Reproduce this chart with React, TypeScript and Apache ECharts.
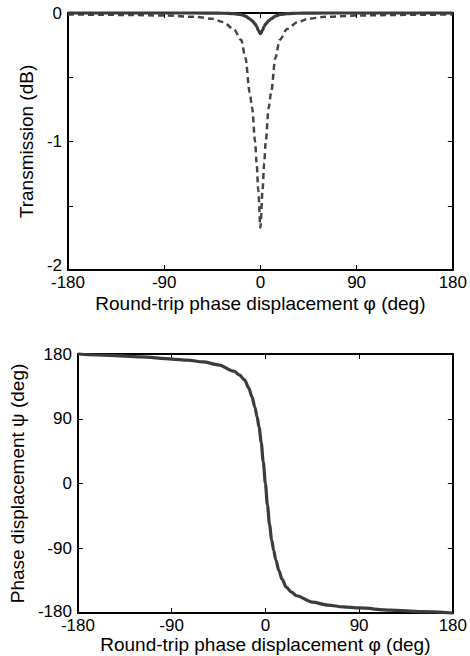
import React, { useEffect, useRef } from "react";
import * as echarts from "echarts";

// Transmission panel (top)
const phiT = [-180, -150, -120, -90, -60, -45, -35, -25, -18, -14, -10, -7.7, -5, -3.5, -2, 0, 2, 3.5, 5, 7.7, 10, 14, 18, 25, 35, 45, 60, 90, 120, 150, 180];
const transSolid = [0, 0, 0, 0, 0, -0.001, -0.002, -0.005, -0.012, -0.025, -0.045, -0.062, -0.085, -0.105, -0.135, -0.16, -0.135, -0.105, -0.085, -0.062, -0.045, -0.025, -0.012, -0.005, -0.002, -0.001, 0, 0, 0, 0, 0];
const transDashed = [-0.012, -0.013, -0.016, -0.02, -0.03, -0.045, -0.07, -0.125, -0.21, -0.35, -0.62, -0.74, -1.0, -1.17, -1.38, -1.67, -1.38, -1.17, -1.0, -0.74, -0.62, -0.35, -0.21, -0.125, -0.07, -0.045, -0.03, -0.02, -0.016, -0.013, -0.012];

// Phase panel (bottom)
const phiP = [-180, -150, -120, -90, -75, -60, -45, -30, -25, -20, -16, -13, -10, -8, -6, -4, -2, 0, 2, 4, 6, 8, 10, 13, 16, 20, 25, 30, 45, 60, 75, 90, 120, 150, 180];
const phase = [180, 178, 176, 173, 171.5, 169, 165, 156, 151, 144, 133, 121, 106, 93, 78, 57, 30, 0, -30, -57, -78, -93, -106, -121, -133, -144, -151, -156, -165, -169, -171.5, -173, -176, -178, -180];

const xTicks = [-180, -90, 0, 90, 180];
const yTicksTop = [0, -1, -2];
const yTicksBottom = [180, 90, 0, -90, -180];

const xName = "Round-trip phase displacement φ (deg)";
const yNameTop = "Transmission (dB)";
const yNameBottom = "Phase displacement ψ (deg)";

const FONT = "Liberation Sans, Arial, sans-serif";

export default function App() {
  const ref = useRef<HTMLDivElement>(null);
  useEffect(() => {
    if (!ref.current) return;
    const chart = echarts.init(ref.current, undefined, { renderer: "svg" });
    const line = { show: true, onZero: false, lineStyle: { color: "#000", width: 2 } };
    const tick = { show: true, inside: true, length: 5, lineStyle: { color: "#000", width: 1 } };
    const lbl = { fontSize: 17, color: "#000", fontFamily: FONT };
    const nameStyle = { fontSize: 19, color: "#000", fontFamily: FONT };
    const xBase = (g: number, pos: string, labels: boolean, name?: string, gap?: number) => ({
      type: "value",
      gridIndex: g,
      position: pos,
      min: xTicks[0],
      max: xTicks[xTicks.length - 1],
      interval: 90,
      axisLine: line,
      axisTick: tick,
      splitLine: { show: false },
      axisLabel: { show: labels, margin: 4, ...lbl },
      name: name,
      nameLocation: "middle",
      nameGap: gap,
      nameTextStyle: nameStyle,
    });
    const minLabelUp = (v: number, minV: number, show: boolean) =>
      !show ? "" : v === minV ? "{lo|" + v + "}" : String(v);
    const option: any = {
      animation: false,
      backgroundColor: "#fff",
      grid: [
        { left: 68, top: 13, width: 387, height: 257 },
        { left: 68, top: 354, width: 387, height: 259 },
      ],
      xAxis: [
        xBase(0, "bottom", true, xName, 24),
        xBase(0, "top", false),
        xBase(1, "bottom", true, xName, 22),
        xBase(1, "top", false),
      ],
      yAxis: [
        {
          type: "value", gridIndex: 0, position: "left",
          min: yTicksTop[yTicksTop.length - 1], max: yTicksTop[0], interval: 0.5,
          axisLine: line, axisTick: tick, splitLine: { show: false },
          axisLabel: {
            margin: 6, ...lbl,
            formatter: (v: number) => minLabelUp(v, -2, yTicksTop.includes(v)),
            rich: { lo: { fontSize: 17, color: "#000", fontFamily: FONT, padding: [0, 0, 10, 0] } },
          },
          name: yNameTop, nameLocation: "middle", nameGap: 28, nameTextStyle: nameStyle,
        },
        {
          type: "value", gridIndex: 0, position: "right",
          min: -2, max: 0, interval: 0.5,
          axisLine: line, axisTick: tick, splitLine: { show: false }, axisLabel: { show: false },
        },
        {
          type: "value", gridIndex: 1, position: "left",
          min: yTicksBottom[yTicksBottom.length - 1], max: yTicksBottom[0], interval: 90,
          axisLine: line, axisTick: tick, splitLine: { show: false },
          axisLabel: {
            margin: 6, ...lbl,
            formatter: (v: number) => minLabelUp(v, -180, true),
            rich: { lo: { fontSize: 17, color: "#000", fontFamily: FONT, padding: [0, 0, 4, 0] } },
          },
          name: yNameBottom, nameLocation: "middle", nameGap: 39, nameTextStyle: nameStyle,
        },
        {
          type: "value", gridIndex: 1, position: "right",
          min: -180, max: 180, interval: 90,
          axisLine: line, axisTick: tick, splitLine: { show: false }, axisLabel: { show: false },
        },
      ],
      series: [
        {
          type: "line", xAxisIndex: 0, yAxisIndex: 0,
          data: phiT.map((x, i) => [x, transDashed[i]]),
          showSymbol: false, smooth: 0.3, smoothMonotone: "x", clip: false,
          lineStyle: { color: "#454545", width: 2.5, type: [6, 4] },
        },
        {
          type: "line", xAxisIndex: 0, yAxisIndex: 0,
          data: phiT.map((x, i) => [x, transSolid[i]]),
          showSymbol: false, smooth: 0.3, smoothMonotone: "x", clip: false,
          lineStyle: { color: "#3a3a3a", width: 3.2 },
        },
        {
          type: "line", xAxisIndex: 2, yAxisIndex: 2,
          data: phiP.map((x, i) => [x, phase[i]]),
          showSymbol: false, smooth: 0.3, smoothMonotone: "x", clip: false,
          lineStyle: { color: "#3c3c3c", width: 3.2 },
        },
      ],
    };
    chart.setOption(option);
    return () => chart.dispose();
  }, []);
  return (
    <div
      ref={ref}
      style={{ position: "absolute", left: 0, top: 0, width: 470, height: 656, background: "#fff" }}
    />
  );
}
